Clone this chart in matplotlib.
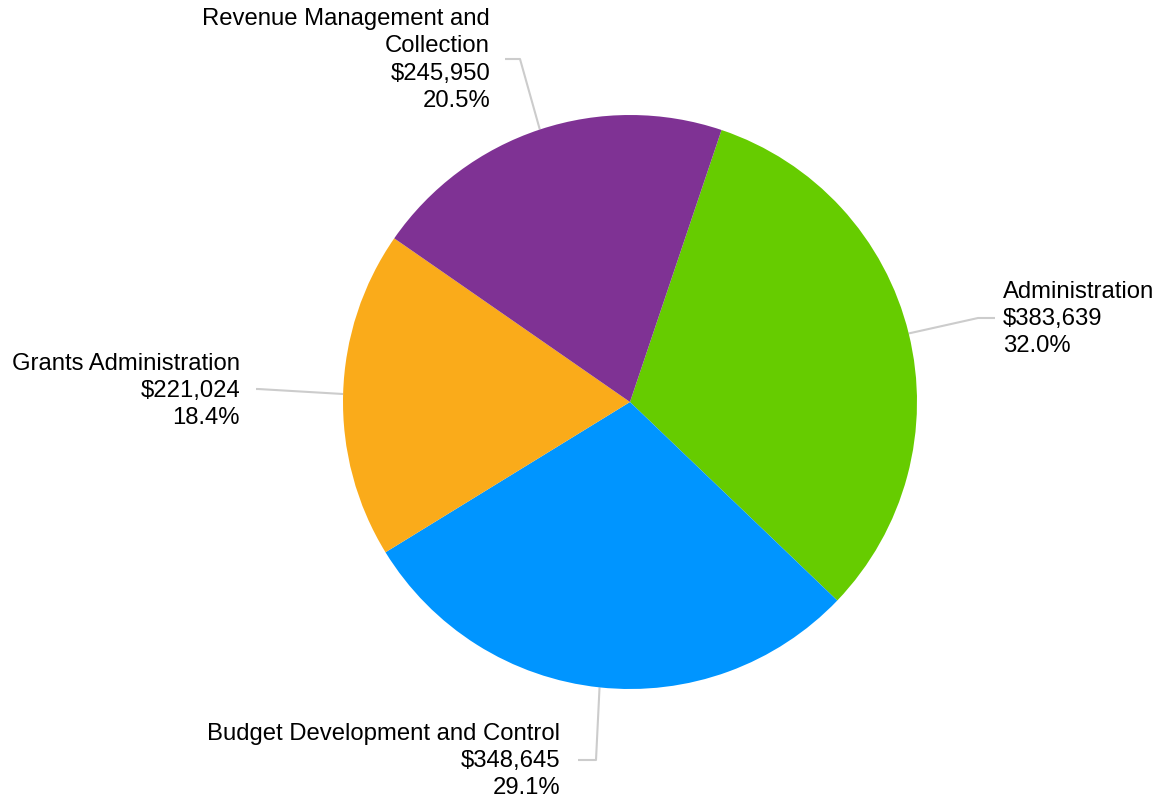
import numpy as np
import matplotlib
matplotlib.use("Agg")
import matplotlib.pyplot as plt

plt.rcParams['font.family'] = ['Liberation Sans', 'DejaVu Sans']

# data
categories = ["Administration", "Budget Development and Control",
              "Grants Administration", "Revenue Management and\nCollection"]
values = [383639, 348645, 221024, 245950]
colors = ["#66CC00", "#0095FF", "#FAAB1A", "#7F3294"]

# label layout (elbow point, end of leader, text anchor, alignment)
label_layout = [
    dict(elbow=(978, 484), end=(995, 484), text=(1003, 484), ha="left"),
    dict(elbow=(596, 42), end=(578, 42), text=(560, 42), ha="right"),
    dict(elbow=(258, 413), end=(256, 413), text=(240, 412), ha="right"),
    dict(elbow=(520, 743), end=(505, 743), text=(490, 743), ha="right"),
]

W, H = 1157, 803
fig = plt.figure(figsize=(W / 100, H / 100), dpi=100)
ax = fig.add_axes([0, 0, 1, 1])

cx, cy, r = 630, 400, 287
wedges, _ = ax.pie(values, colors=colors, center=(cx, cy), radius=r,
                   startangle=71.4, counterclock=False,
                   wedgeprops=dict(linewidth=0))
ax.set_xlim(0, W)
ax.set_ylim(0, H)
ax.set_aspect("equal")
ax.axis("off")

total = sum(values)
for w, name, v, lay in zip(wedges, categories, values, label_layout):
    ang = np.radians((w.theta1 + w.theta2) / 2)
    px, py = cx + r * np.cos(ang), cy + r * np.sin(ang)
    ex, ey = lay["elbow"]
    qx, qy = lay["end"]
    ax.plot([px, ex, qx], [py, ey, qy], color="#CCCCCC", lw=1.5,
            solid_capstyle="butt", zorder=0)
    txt = f"{name}\n${v:,}\n{v / total * 100:.1f}%"
    ax.text(lay["text"][0], lay["text"][1], txt, ha=lay["ha"], va="center",
            multialignment=lay["ha"], fontsize=17.2, linespacing=1.3,
            color="black")

fig.savefig("out.png", dpi=100)
